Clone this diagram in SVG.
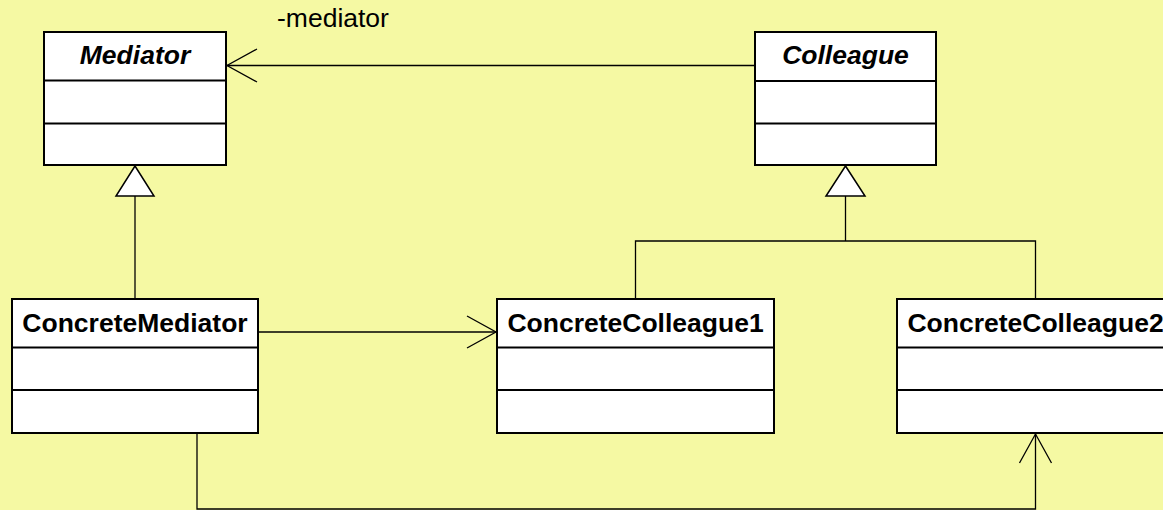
<svg xmlns="http://www.w3.org/2000/svg" width="1163" height="510" viewBox="0 0 1163 510">
<style>
.box{fill:#fff;stroke:#000;stroke-width:2}
.div{stroke:#000;stroke-width:2}
.t{font-family:"Liberation Sans",Arial,sans-serif;font-size:26.5px;font-weight:bold;text-anchor:middle;fill:#000}
.it{font-style:italic}
.lbl{font-family:"Liberation Sans",Arial,sans-serif;font-size:26.5px;fill:#000}
.c{fill:none;stroke:#000;stroke-width:1.3}
.tri{fill:#fff;stroke:#000;stroke-width:1.5}
</style>
<rect width="1163" height="510" fill="#F5F9A3"/>
<g id="connectors">
<line class="c" x1="754" y1="65.5" x2="227" y2="65.5"/>
<polyline class="c" points="257,49 227,65.5 257,82"/>
<line class="c" x1="135" y1="196" x2="135" y2="299"/>
<polygon class="tri" points="135,166 116,196 154,196"/>
<polyline class="c" points="635.5,299 635.5,241 1035.5,241 1035.5,299"/>
<line class="c" x1="845.5" y1="196" x2="845.5" y2="241"/>
<polygon class="tri" points="845.5,166 826,196 865,196"/>
<line class="c" x1="258" y1="332" x2="496" y2="332"/>
<polyline class="c" points="467,316 496,332 467,348"/>
<polyline class="c" points="197,433 197,509 1035.5,509 1035.5,434"/>
<polyline class="c" points="1019.5,463 1035.5,434 1051.5,463"/>
<text class="lbl" x="277" y="27">-mediator</text>
</g>
<g id="Mediator">
<rect class="box" x="44" y="32" width="182" height="133"/>
<line class="div" x1="44" y1="80.5" x2="226" y2="80.5"/>
<line class="div" x1="44" y1="123.5" x2="226" y2="123.5"/>
<text class="t it" x="135" y="64">Mediator</text>
</g>
<g id="Colleague">
<rect class="box" x="755" y="32" width="181" height="133"/>
<line class="div" x1="755" y1="81" x2="936" y2="81"/>
<line class="div" x1="755" y1="123.5" x2="936" y2="123.5"/>
<text class="t it" x="845.5" y="64">Colleague</text>
</g>
<g id="ConcreteMediator">
<rect class="box" x="12" y="299" width="246" height="134"/>
<line class="div" x1="12" y1="347.5" x2="258" y2="347.5"/>
<line class="div" x1="12" y1="390" x2="258" y2="390"/>
<text class="t" x="135" y="332">ConcreteMediator</text>
</g>
<g id="ConcreteColleague1">
<rect class="box" x="497" y="299" width="277" height="134"/>
<line class="div" x1="497" y1="347.5" x2="774" y2="347.5"/>
<line class="div" x1="497" y1="390" x2="774" y2="390"/>
<text class="t" x="635.5" y="332">ConcreteColleague1</text>
</g>
<g id="ConcreteColleague2">
<rect class="box" x="897" y="299" width="278" height="134"/>
<line class="div" x1="897" y1="347.5" x2="1175" y2="347.5"/>
<line class="div" x1="897" y1="390" x2="1175" y2="390"/>
<text class="t" x="1035.5" y="332">ConcreteColleague2</text>
</g>
</svg>
